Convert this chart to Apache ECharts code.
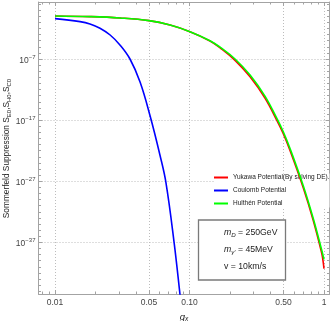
<!DOCTYPE html>
<html><head><meta charset="utf-8">
<script src="https://cdn.jsdelivr.net/npm/echarts@6/dist/echarts.min.js"></script>
<style>html,body{margin:0;padding:0;background:#fff}#c{width:332px;height:321px}</style>
</head><body><div id="c"></div>
<script>
const FONT = '"Liberation Sans", Arial, sans-serif';

// ---- data ----
const seriesNames = ['Yukawa Potential(By solving DE).', 'Coulomb Potential', 'Hulthén Potential'];
const seriesColors = ['#ff0000', '#0000ff', '#00ff00'];

const yukawaG = [0.01, 0.0182, 0.0304, 0.05, 0.0717, 0.1008, 0.142, 0.169, 0.218, 0.282, 0.364, 0.448, 0.498, 0.558, 0.70, 0.832, 0.962, 0.98, 1.0];
const yukawaS = [1.12, 0.87, 0.52, 0.19, 0.036, 2.9e-3, 8.9e-5, 6.5e-6, 6.0e-8, 1.2e-10, 4.0e-14, 7.4e-18, 5.9e-20, 1.17e-22, 9.3e-29, 3.7e-34, 1.6e-39, 1.6e-40, 5.0e-42];

const coulombG = [0.01, 0.01535, 0.0182, 0.0216, 0.0257, 0.0304, 0.0361, 0.0429, 0.0509, 0.0604, 0.0669, 0.0768, 0.0848, 0.0878];
const coulombS = [0.41, 0.13, 0.055, 0.011, 8.5e-4, 2.0e-5, 1.0e-7, 1.7e-11, 5.0e-17, 1.6e-23, 5.0e-28, 1.0e-37, 4.4e-46, 3.2e-49];

const hulthenG = [0.01, 0.0182, 0.0304, 0.05, 0.0717, 0.1008, 0.142, 0.169, 0.218, 0.282, 0.364, 0.448, 0.498, 0.558, 0.70, 0.832, 0.962, 1.0];
const hulthenS = [1.12, 0.87, 0.52, 0.19, 0.037, 3.0e-3, 1.0e-4, 8.5e-6, 1.0e-7, 2.4e-10, 8.5e-14, 1.6e-17, 1.26e-19, 2.5e-22, 2.0e-28, 7.9e-34, 5.0e-39, 1.6e-40];

// ---- axes / ticks ----
const xMin = 0.007539, xMax = 1.0987;
const yMin = 3.47e-46, yMax = 213;
const xTickValues = [0.01, 0.05, 0.1, 0.5, 1];
const xTickLabels = ['0.01', '0.05', '0.10', '0.50', '1'];
const xMinorTicks = [0.008, 0.009, 0.02, 0.03, 0.04, 0.06, 0.07, 0.08, 0.09, 0.2, 0.3, 0.4, 0.6, 0.7, 0.8, 0.9];
const yTickValues = [1e-37, 1e-27, 1e-17, 1e-7];
const yTickExponents = ['−37', '−27', '−17', '−7'];
const yMinorTicks = [];
for (let e = -45; e <= 2; e++) yMinorTicks.push(Math.pow(10, e));

const paramLines = ['{i|m}{sub|D}{n| = 250GeV}', '{i|m}{sub|γ′}{n| = 45MeV}', '{n|v = 10km/s}'];

const frameColor = '#a3a3a3';
const labelColor = '#444';
const gridColor = '#bcbcbc';

function findIdx(arr, v) {
  return arr.findIndex(t => Math.abs(t - v) / t < 1e-6);
}

function axisBase(pos, min, max) {
  return {
    type: 'log', logBase: 10, min: min, max: max, position: pos,
    axisLine: { show: false, onZero: false },
    axisTick: { show: false },
    axisLabel: { show: false },
    splitLine: { show: false },
    minorTick: { show: false }, minorSplitLine: { show: false }
  };
}
function tickAxis(pos, min, max, values, len, line) {
  const a = axisBase(pos, min, max);
  a.axisTick = { show: true, inside: true, length: len, customValues: values, lineStyle: { color: frameColor, width: 1 } };
  if (line) a.axisLine = { show: true, onZero: false, lineStyle: { color: frameColor, width: 1 } };
  return a;
}

const xMain = tickAxis('bottom', xMin, xMax, xTickValues, 4, true);
xMain.axisLabel = {
  show: true, customValues: xTickValues, margin: 4, fontSize: 8.5, color: labelColor, fontFamily: FONT,
  formatter: v => { const i = findIdx(xTickValues, v); return i >= 0 ? xTickLabels[i] : ''; }
};
xMain.splitLine = { show: true, lineStyle: { color: gridColor, type: [1, 2], width: 1 } };
xMain.name = '{i|g}{sub|x}';
xMain.nameLocation = 'middle';
xMain.nameGap = 14;
xMain.nameTextStyle = { rich: {
  i: { fontSize: 9.5, fontStyle: 'italic', color: '#222', fontFamily: FONT },
  sub: { fontSize: 6.5, fontStyle: 'italic', color: '#222', fontFamily: FONT, padding: [5, 0, 0, 0] }
} };

const yMain = tickAxis('left', yMin, yMax, yTickValues, 4, true);
yMain.axisLabel = {
  show: true, customValues: yTickValues, margin: 3, fontFamily: FONT,
  formatter: v => { const i = findIdx(yTickValues, v); return i >= 0 ? '{b|10}{s|' + yTickExponents[i] + '}' : ''; },
  rich: {
    b: { fontSize: 8.5, color: labelColor, fontFamily: FONT, padding: [3, 0, 0, 0] },
    s: { fontSize: 6, color: labelColor, fontFamily: FONT, padding: [0, 0, 4, 0] }
  }
};
yMain.splitLine = { show: true, lineStyle: { color: gridColor, type: [1, 2], width: 1 } };

const option = {
  animation: false,
  backgroundColor: '#fff',
  grid: { left: 38.5, right: 2.5, top: 2, bottom: 27, containLabel: false, outerBoundsMode: 'none' },
  legend: {
    orient: 'vertical', left: 214, top: 173.5, icon: 'rect', itemWidth: 14, itemHeight: 2, itemGap: 5, padding: 0,
    backgroundColor: '#fff', z: 1,
    textStyle: { fontSize: 6.5, lineHeight: 8, color: '#222', fontFamily: FONT },
    data: seriesNames
  },
  xAxis: [
    xMain,
    tickAxis('bottom', xMin, xMax, xMinorTicks, 2.5, false),
    tickAxis('top', xMin, xMax, xTickValues, 4, true),
    tickAxis('top', xMin, xMax, xMinorTicks, 2.5, false)
  ],
  yAxis: [
    yMain,
    tickAxis('left', yMin, yMax, yMinorTicks, 2.5, false),
    tickAxis('right', yMin, yMax, yTickValues, 4, true),
    tickAxis('right', yMin, yMax, yMinorTicks, 2.5, false)
  ],
  series: [
    { name: seriesNames[0], type: 'line', data: yukawaG.map((g, i) => [g, yukawaS[i]]) },
    { name: seriesNames[1], type: 'line', data: coulombG.map((g, i) => [g, coulombS[i]]) },
    { name: seriesNames[2], type: 'line', data: hulthenG.map((g, i) => [g, hulthenS[i]]) }
  ].map((s, k) => Object.assign(s, {
    xAxisIndex: 0, yAxisIndex: 0, symbol: 'none', showSymbol: false, clip: true,
    smooth: 0.4,
    color: seriesColors[k],
    itemStyle: { color: seriesColors[k] },
    lineStyle: { color: seriesColors[k], width: 1.6 },
    z: 2 + k
  })),
  graphic: [
    {
      type: 'text', x: 7, y: 148.5, rotation: Math.PI / 2,
      style: {
        text: '{n|Sommerfeld Suppression S}{sub|E0}{n|,S}{sub|H0}{n|,S}{sub|C0}',
        align: 'center', verticalAlign: 'middle',
        rich: {
          n: { fontSize: 8.3, fill: '#222', fontFamily: FONT },
          sub: { fontSize: 6, fill: '#222', fontFamily: FONT, padding: [5, 0, 0, 0] }
        }
      }
    },
    {
      type: 'rect', shape: { x: 198.5, y: 220, width: 87, height: 60 },
      style: { fill: '#fff', stroke: '#7a7a7a', lineWidth: 1.3 }, z: 10
    },
    ...paramLines.map((t, i) => ({
      type: 'text', x: 224, y: 232.5 + i * 17, z: 11,
      style: {
        text: t, align: 'left', verticalAlign: 'middle',
        rich: {
          n: { fontSize: 8.7, fill: '#222', fontFamily: FONT },
          i: { fontSize: 8.7, fill: '#222', fontFamily: FONT, fontStyle: 'italic' },
          sub: { fontSize: 6.2, fill: '#222', fontFamily: FONT, fontStyle: 'italic', padding: [5, 0, 0, 0] }
        }
      }
    }))
  ]
};

const chart = echarts.init(document.getElementById('c'), null, { renderer: 'canvas' });
chart.setOption(option);
</script>
</body></html>
